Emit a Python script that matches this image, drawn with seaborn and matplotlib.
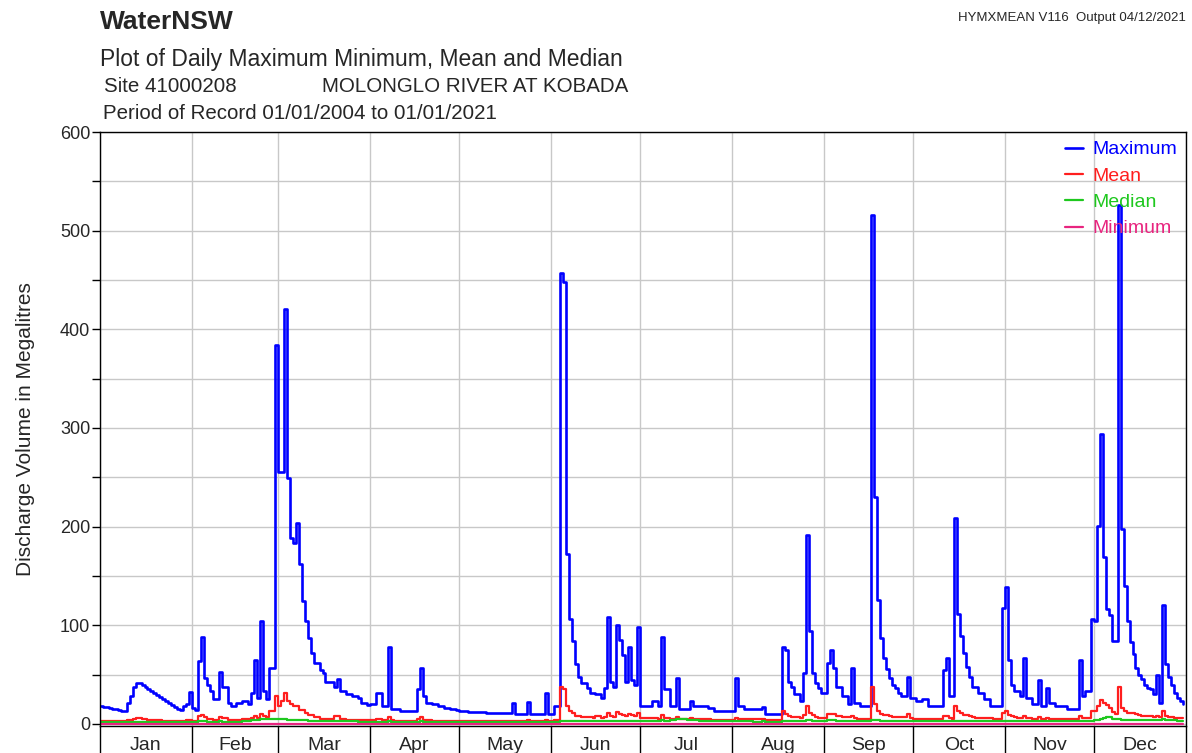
import numpy as np
import pandas as pd
import matplotlib
matplotlib.use('Agg')
import matplotlib.pyplot as plt
import seaborn as sns
from matplotlib.ticker import MultipleLocator

# months of the (leap) year the daily statistics are laid out on
month_names = ['Jan', 'Feb', 'Mar', 'Apr', 'May', 'Jun',
               'Jul', 'Aug', 'Sep', 'Oct', 'Nov', 'Dec']
month_days = [31, 29, 31, 30, 31, 30, 31, 31, 30, 31, 30, 31]

# daily maximum, ML (one line per month)
daily_max = [
    18, 17, 17, 16, 15, 15, 14, 13, 13, 21, 28, 38, 42, 42, 40, 37, 35, 33, 31, 29, 27, 25, 23, 21, 19, 17, 15, 14, 18, 20, 32,
    16, 14, 64, 88, 47, 40, 33, 25, 25, 53, 38, 38, 21, 18, 18, 21, 21, 23, 23, 20, 31, 65, 26, 104, 33, 25, 57, 57, 384,
    255, 255, 421, 249, 189, 183, 204, 162, 125, 104, 87, 72, 62, 62, 55, 52, 43, 43, 43, 38, 46, 33, 33, 30, 30, 28, 28, 26, 21, 21, 19,
    20, 20, 31, 31, 18, 18, 78, 15, 15, 15, 13, 13, 13, 13, 13, 13, 35, 57, 28, 21, 21, 20, 20, 18, 18, 16, 16, 15, 15, 14,
    13, 13, 13, 12, 12, 12, 12, 12, 12, 11, 11, 11, 11, 11, 11, 11, 11, 11, 21, 10, 10, 10, 10, 22, 10, 10, 10, 10, 10, 31, 10,
    10, 18, 18, 457, 448, 172, 106, 84, 61, 48, 42, 42, 36, 31, 31, 30, 30, 26, 36, 108, 43, 38, 100, 85, 70, 43, 78, 45, 40, 98,
    18, 18, 18, 18, 23, 23, 18, 88, 35, 35, 18, 18, 47, 15, 15, 15, 15, 23, 18, 18, 18, 18, 18, 16, 16, 13, 13, 13, 13, 13, 13,
    13, 47, 18, 18, 15, 15, 15, 15, 15, 15, 17, 10, 10, 10, 10, 10, 10, 78, 75, 43, 38, 30, 30, 23, 52, 192, 94, 52, 42, 36, 31,
    31, 62, 75, 57, 38, 38, 28, 28, 20, 57, 21, 21, 18, 18, 18, 18, 516, 230, 126, 87, 67, 56, 47, 40, 36, 31, 28, 28, 48, 26,
    26, 23, 23, 25, 25, 18, 18, 18, 18, 18, 55, 67, 28, 28, 209, 111, 89, 72, 58, 48, 38, 38, 31, 31, 25, 25, 18, 18, 18, 18, 118,
    139, 65, 40, 33, 33, 28, 67, 26, 26, 20, 20, 45, 18, 18, 36, 21, 21, 18, 18, 18, 18, 15, 15, 15, 15, 65, 28, 33, 33, 106,
    104, 201, 294, 169, 117, 110, 84, 84, 526, 198, 140, 104, 83, 71, 57, 50, 46, 40, 36, 35, 30, 50, 21, 121, 61, 48, 40, 31, 26, 23, 20,
]

# daily mean, ML
daily_mean = [
    3.5, 3.4, 3.4, 3.3, 3.2, 3.2, 3.1, 3.0, 3.0, 3.6, 4.2, 5.0, 5.8, 6.0, 5.2, 4.6, 4.2, 4.0, 3.8, 3.7, 3.6, 3.5, 3.4, 3.3, 3.2, 3.1, 3.0, 3.0, 3.4, 3.6, 4.5,
    3.5, 3.2, 8, 9.5, 7, 5.5, 5, 4.5, 4.5, 7, 6, 6.5, 4.5, 4.2, 4.0, 4.2, 4.5, 4.6, 4.8, 4.6, 6.5, 8.5, 6, 10.5, 8, 7, 13, 13, 28,
    18, 23, 31, 23, 20, 18, 18, 14.5, 14.5, 11, 9.5, 9.5, 7, 7, 5.5, 5, 5, 5, 5, 8, 8, 5, 4.6, 4.4, 4.2, 4.2, 4.0, 3.9, 3.8, 3.7, 3.6,
    3.6, 3.6, 5, 4.8, 3.8, 3.7, 7.5, 3.6, 3.5, 3.4, 3.3, 3.3, 3.2, 3.2, 3.2, 3.1, 5, 7, 4.5, 3.8, 3.6, 3.5, 3.4, 3.3, 3.3, 3.2, 3.2, 3.1, 3.1, 3.0,
    3.0, 3.0, 3.0, 2.9, 2.9, 2.9, 2.9, 2.8, 2.8, 2.8, 2.8, 2.8, 2.8, 2.7, 2.7, 2.7, 2.7, 2.7, 3.5, 2.7, 2.7, 2.7, 2.7, 3.6, 2.7, 2.7, 2.7, 2.7, 2.8, 4.5, 3.0,
    3.0, 4, 4, 38, 35, 18, 13, 11, 8.5, 8, 7, 7, 7, 7, 6.5, 8.5, 8, 6.5, 7, 11, 8, 7.5, 12, 10, 9, 8, 10.5, 9, 8, 11,
    6, 6, 5.8, 5.6, 6, 6, 5.5, 9.5, 6.5, 6, 5.5, 5.2, 7, 5, 5, 4.8, 4.8, 6, 5, 5, 4.8, 4.8, 4.6, 4.6, 4.5, 4.4, 4.4, 4.4, 4.3, 4.3, 4.3,
    4.2, 6, 5, 5, 4.8, 4.8, 4.7, 4.7, 4.6, 4.6, 5, 4.4, 4.4, 4.3, 4.3, 4.3, 4.4, 13, 10, 8, 7.5, 7, 7, 6.5, 9, 18, 11, 9.5, 7, 6.5, 6,
    6, 10, 10.5, 10, 8, 8, 7.5, 7.5, 7, 8, 6, 5.5, 5.4, 5.4, 5.4, 5.4, 37, 20, 13, 10, 9.5, 9.5, 8, 7, 7, 7, 7, 7, 10.5, 6,
    5.5, 5, 5, 5, 5, 5, 5, 5, 5, 5, 8, 8, 6, 5.5, 18, 13, 11, 9.5, 9.5, 8, 7, 6.5, 6, 6, 6, 5.8, 5.6, 5.5, 5.5, 5.5, 11,
    13, 9.5, 8, 7, 6.5, 6, 8.5, 6, 6, 5.5, 5.5, 7, 5.5, 5.5, 6.5, 5.5, 5.5, 5.5, 5.4, 5.4, 5.3, 5.2, 5.2, 5.2, 5.2, 8, 6, 6, 6, 13,
    13, 18, 24, 21, 19, 16, 12, 10.5, 37, 16, 13, 11, 11, 11, 10, 9, 8.5, 8, 8, 8, 7.5, 8, 7, 13, 8, 7.5, 7, 6.5, 6, 6, 6,
]

# daily median, ML
daily_median = [
    2.2, 2.2, 2.1, 2.1, 2.0, 2.0, 2.0, 1.9, 1.9, 2.0, 2.1, 2.3, 2.4, 2.4, 2.3, 2.2, 2.2, 2.1, 2.1, 2.0, 2.0, 2.0, 1.9, 1.9, 1.9, 1.8, 1.8, 1.8, 1.9, 2.0, 2.2,
    2.2, 2.1, 2.6, 2.8, 2.6, 2.5, 2.4, 2.3, 2.3, 2.6, 2.5, 2.5, 2.4, 2.3, 2.3, 2.4, 2.5, 2.7, 3.0, 3.2, 3.6, 4.4, 4.4, 5.0, 4.8, 4.6, 4.8, 4.8, 5.2,
    5.0, 4.6, 4.8, 4.4, 4.2, 4.0, 4.0, 3.8, 3.7, 3.6, 3.5, 3.4, 3.3, 3.2, 3.1, 3.0, 3.0, 2.9, 2.9, 2.8, 3.0, 2.8, 2.7, 2.7, 2.6, 2.6, 2.6, 2.5, 2.5, 2.5, 2.4,
    2.4, 2.4, 2.5, 2.5, 2.4, 2.4, 2.7, 2.3, 2.3, 2.3, 2.2, 2.2, 2.2, 2.2, 2.1, 2.1, 2.3, 2.6, 2.3, 2.1, 2.1, 2.0, 2.0, 2.0, 1.9, 1.9, 1.9, 1.9, 1.8, 1.8,
    1.8, 1.8, 1.8, 1.7, 1.7, 1.7, 1.7, 1.7, 1.7, 1.7, 1.6, 1.6, 1.6, 1.6, 1.6, 1.6, 1.6, 1.6, 1.8, 1.6, 1.6, 1.6, 1.6, 1.8, 1.6, 1.6, 1.7, 1.7, 1.8, 2.2, 1.9,
    1.9, 2.2, 2.4, 3.2, 3.4, 3.2, 3.1, 3.0, 3.0, 3.0, 2.9, 2.9, 2.9, 2.9, 2.9, 3.0, 3.0, 2.9, 3.0, 3.3, 3.2, 3.1, 3.4, 3.3, 3.2, 3.1, 3.3, 3.2, 3.2, 3.4,
    3.2, 3.2, 3.2, 3.2, 3.3, 3.3, 3.2, 3.6, 3.5, 3.5, 3.6, 4.0, 4.6, 4.8, 4.8, 4.6, 4.4, 4.0, 3.8, 3.6, 3.5, 3.4, 3.3, 3.2, 3.1, 3.0, 3.0, 2.9, 2.8, 2.8, 2.7,
    2.7, 2.9, 2.8, 2.8, 2.7, 2.6, 2.6, 2.5, 2.5, 2.5, 2.6, 2.4, 2.4, 2.4, 2.4, 2.4, 2.5, 3.2, 3.4, 3.3, 3.2, 3.1, 3.1, 3.0, 3.3, 3.8, 3.6, 3.4, 3.3, 3.2, 3.2,
    3.2, 3.6, 3.8, 3.6, 3.4, 3.3, 3.2, 3.2, 3.1, 3.3, 3.1, 3.0, 3.0, 3.0, 3.0, 3.0, 4.2, 3.8, 3.6, 3.5, 3.4, 3.4, 3.3, 3.2, 3.2, 3.1, 3.1, 3.1, 3.3, 3.0,
    3.0, 2.9, 2.9, 2.9, 2.9, 2.8, 2.8, 2.8, 2.8, 2.8, 3.0, 3.1, 2.9, 2.8, 3.4, 3.2, 3.1, 3.0, 3.0, 2.9, 2.9, 2.8, 2.8, 2.7, 2.7, 2.7, 2.7, 2.6, 2.6, 2.6, 3.0,
    3.4, 3.0, 2.9, 2.8, 2.8, 2.7, 3.0, 2.8, 2.8, 2.7, 2.7, 2.9, 2.7, 2.7, 2.8, 2.7, 2.7, 2.7, 2.7, 2.7, 2.7, 2.6, 2.6, 2.6, 2.6, 3.0, 2.8, 2.8, 2.8, 3.2,
    3.8, 4.4, 5.0, 6.5, 7.0, 7.0, 5.5, 5.0, 4.6, 4.5, 4.4, 4.4, 4.4, 4.4, 4.3, 4.3, 4.2, 4.2, 4.2, 4.1, 4.1, 4.1, 4.0, 4.6, 4.2, 4.0, 3.8, 3.6, 3.5, 3.4, 3.4,
]

# daily minimum, ML (the river has stopped flowing on every day of the year)
daily_min = [
    0, 0, 0, 0, 0, 0, 0, 0, 0, 0, 0, 0, 0, 0, 0, 0, 0, 0, 0, 0, 0, 0, 0, 0, 0, 0, 0, 0, 0, 0, 0,
    0, 0, 0, 0, 0, 0, 0, 0, 0, 0, 0, 0, 0, 0, 0, 0, 0, 0, 0, 0, 0, 0, 0, 0, 0, 0, 0, 0, 0,
    0, 0, 0, 0, 0, 0, 0, 0, 0, 0, 0, 0, 0, 0, 0, 0, 0, 0, 0, 0, 0, 0, 0, 0, 0, 0, 0, 0, 0, 0, 0,
    0, 0, 0, 0, 0, 0, 0, 0, 0, 0, 0, 0, 0, 0, 0, 0, 0, 0, 0, 0, 0, 0, 0, 0, 0, 0, 0, 0, 0, 0,
    0, 0, 0, 0, 0, 0, 0, 0, 0, 0, 0, 0, 0, 0, 0, 0, 0, 0, 0, 0, 0, 0, 0, 0, 0, 0, 0, 0, 0, 0, 0,
    0, 0, 0, 0, 0, 0, 0, 0, 0, 0, 0, 0, 0, 0, 0, 0, 0, 0, 0, 0, 0, 0, 0, 0, 0, 0, 0, 0, 0, 0,
    0, 0, 0, 0, 0, 0, 0, 0, 0, 0, 0, 0, 0, 0, 0, 0, 0, 0, 0, 0, 0, 0, 0, 0, 0, 0, 0, 0, 0, 0, 0,
    0, 0, 0, 0, 0, 0, 0, 0, 0, 0, 0, 0, 0, 0, 0, 0, 0, 0, 0, 0, 0, 0, 0, 0, 0, 0, 0, 0, 0, 0, 0,
    0, 0, 0, 0, 0, 0, 0, 0, 0, 0, 0, 0, 0, 0, 0, 0, 0, 0, 0, 0, 0, 0, 0, 0, 0, 0, 0, 0, 0, 0,
    0, 0, 0, 0, 0, 0, 0, 0, 0, 0, 0, 0, 0, 0, 0, 0, 0, 0, 0, 0, 0, 0, 0, 0, 0, 0, 0, 0, 0, 0, 0,
    0, 0, 0, 0, 0, 0, 0, 0, 0, 0, 0, 0, 0, 0, 0, 0, 0, 0, 0, 0, 0, 0, 0, 0, 0, 0, 0, 0, 0, 0,
    0, 0, 0, 0, 0, 0, 0, 0, 0, 0, 0, 0, 0, 0, 0, 0, 0, 0, 0, 0, 0, 0, 0, 0, 0, 0, 0, 0, 0, 0, 0,
]

df = pd.DataFrame({
    'day': np.arange(len(daily_max)),
    'Maximum': daily_max,
    'Mean': daily_mean,
    'Median': daily_median,
    'Minimum': daily_min,
})

month_starts = np.concatenate([[0], np.cumsum(month_days)])
month_mids = (month_starts[:-1] + month_starts[1:]) / 2

sns.set_style('white')
plt.rcParams['font.family'] = ['Liberation Sans', 'DejaVu Sans']

fig = plt.figure(figsize=(11.92, 7.53), dpi=100)
ax = fig.add_axes([0.0839, 0.0359, 0.911, 0.7888])

styles = [('Maximum', '#0000FF', 1.9),
          ('Mean', '#FF1E1E', 1.6),
          ('Median', '#1EC81E', 1.6),
          ('Minimum', '#E8247F', 1.6)]
for name, col, lw in styles:
    sns.lineplot(data=df, x='day', y=name, color=col, lw=lw, label=name,
                 drawstyle='steps-post', estimator=None, ax=ax)

ax.set_xlim(0, 366)
ax.set_ylim(-2, 600)
ax.set_xlabel('')
ax.set_ylabel('')

# y axis: labelled every 100, gridded every 50
ax.set_yticks(range(0, 601, 100))
ax.yaxis.set_minor_locator(MultipleLocator(50))
ax.tick_params(axis='y', which='both', length=6, width=1, color='black',
               labelsize=13, pad=1, left=True)

# x axis: separators at month boundaries, names in the middle
ax.set_xticks(month_starts)
ax.set_xticklabels([])
ax.set_xticks(month_mids, minor=True)
ax.set_xticklabels(month_names, minor=True)
ax.tick_params(axis='x', which='major', length=23, width=1, color='black', bottom=True)
ax.tick_params(axis='x', which='minor', length=0, labelsize=14, pad=8, bottom=True)

ax.set_axisbelow(True)
ax.xaxis.grid(True, which='major', color='#c8c8c8', lw=1)
ax.xaxis.grid(False, which='minor')
ax.yaxis.grid(True, which='both', color='#c8c8c8', lw=1)
for s in ax.spines.values():
    s.set_visible(True)
    s.set_color('black')
    s.set_linewidth(1)

leg = ax.legend(loc='upper right', frameon=False, fontsize=14,
                labelcolor='linecolor', handlelength=0.9, handletextpad=0.5,
                labelspacing=0.45, borderaxespad=0, borderpad=0.45)

fig.text(0.0210, 0.430, 'Discharge Volume in Megalitres', rotation=90,
         ha='center', va='center', fontsize=15)

fig.text(0.0839, 0.9615, 'WaterNSW', fontsize=19, fontweight='bold', va='baseline')
fig.text(0.0839, 0.9124, 'Plot of Daily Maximum Minimum, Mean and Median',
         fontsize=16.5, va='baseline')
fig.text(0.0872, 0.8778, 'Site 41000208', fontsize=14.8, va='baseline')
fig.text(0.2701, 0.8778, 'MOLONGLO RIVER AT KOBADA', fontsize=14.8, va='baseline')
fig.text(0.0864, 0.842, 'Period of Record 01/01/2004 to 01/01/2021',
         fontsize=14.8, va='baseline')
fig.text(0.995, 0.972, 'HYMXMEAN V116  Output 04/12/2021', fontsize=9.5,
         ha='right', va='baseline')

fig.savefig('out.png', dpi=100)
